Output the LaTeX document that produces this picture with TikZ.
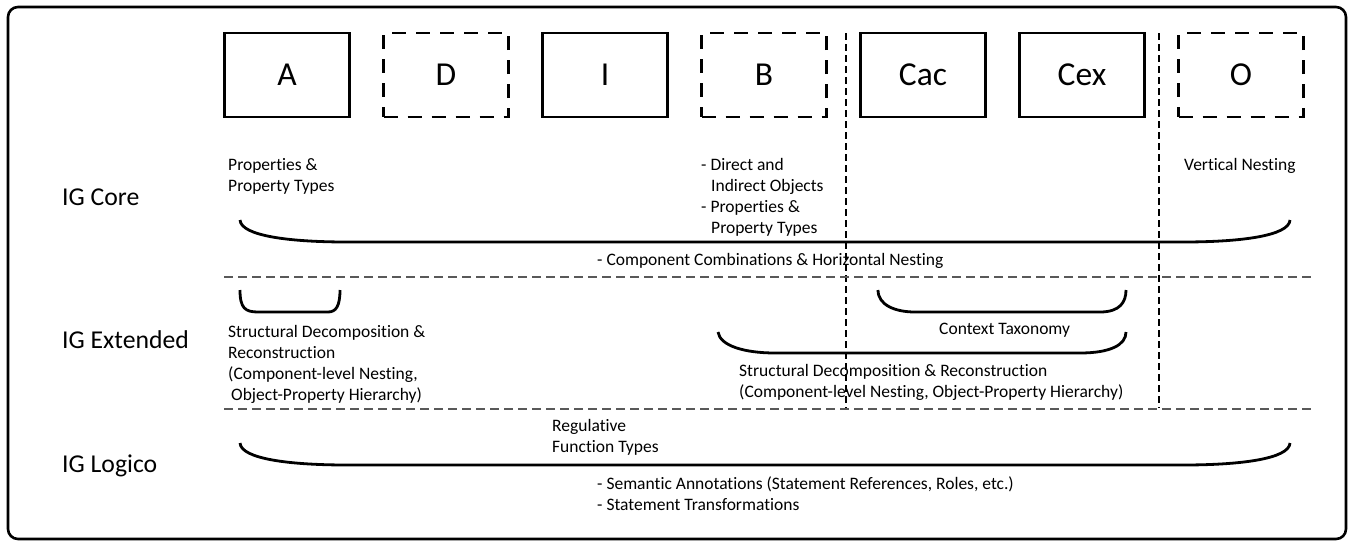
\documentclass[tikz,border=0pt]{standalone}
\usepackage{fontspec}
\setmainfont{Carlito}[Ligatures={NoCommon,NoRequired,NoContextual},Contextuals=NoAlternate,RawFeature={-liga;-clig;-calt;-rlig;-dlig}]
\begin{document}
\begin{tikzpicture}[x=1pt,y=-1pt,
  comp/.style={draw,line width=2.6pt,minimum width=125pt,minimum height=84pt,inner sep=0pt,font=\fontsize{33.5}{36}\selectfont},
  compsolid/.style={comp},
  compdash/.style={comp,dash pattern=on 14pt off 10pt},
  level/.style={inner sep=0pt,anchor=west,font=\fontsize{25.7}{28}\selectfont},
  note/.style={inner sep=0pt,align=left,font=\fontsize{17.5}{21.2}\selectfont},
  brace/.style={line width=2.8pt},
  vsep/.style={line width=1.1pt,dash pattern=on 7pt off 4pt},
  hsep/.style={line width=1.5pt,gray!70!black,dash pattern=on 9pt off 5pt}]
\useasboundingbox (0,0) rectangle (1351,544);
\draw[line width=2.6pt,rounded corners=10pt] (8,7) rectangle (1346,539);
% separators
\draw[vsep] (846,33) -- (846,408);
\draw[vsep] (1159,33) -- (1159,408);
\draw[hsep] (224,277) -- (1311,277);
\draw[hsep] (224,409) -- (1311,409);
% components
\node[compsolid] (A) at (287,75) {A};
\node[compdash] (D) at (446,75) {D};
\node[compsolid] (I) at (605,75) {I};
\node[compdash] (B) at (764,75) {B};
\node[compsolid] (Cac) at (923,75) {Cac};
\node[compsolid] (Cex) at (1082,75) {Cex};
\node[compdash] (O) at (1241,75) {O};
% level labels
\node[level] (core) at (62,197) {IG Core};
\node[level] (ext) at (62,340) {IG Extended};
\node[level] (logico) at (62,466) {IG Logico};
% core notes
\node[note,anchor=north west] (propA) at (228,158) {Properties \&\\Property Types};
\node[note,anchor=north west] (propB) at (701,158) {- Direct and\\\hspace*{10pt}Indirect Objects\\- Properties \&\\\hspace*{10pt}Property Types};
\node[note,anchor=north west] (vert) at (1184,158) {Vertical Nesting};
\node[note,anchor=west] (combo) at (597,261) {- Component Combinations \& Horizontal Nesting};
% extended notes
\node[note,anchor=north west] (structL) at (228,325) {Structural Decomposition \&\\Reconstruction\\(Component-level Nesting,\\\hspace*{3pt}Object-Property Hierarchy)};
\node[note,anchor=west] (ctx) at (939,330) {Context Taxonomy};
\node[note,anchor=north west] (structR) at (739,364) {Structural Decomposition \& Reconstruction\\(Component-level Nesting, Object-Property Hierarchy)};
% logico notes
\node[note,anchor=north west] (reg) at (552,419) {Regulative\\Function Types};
\node[note,anchor=north west] (sem) at (597,476) {- Semantic Annotations (Statement References, Roles, etc.)\\- Statement Transformations};
% brackets
\draw[brace] (240,220) .. controls (241,236) and (290,242) .. (347,242) -- (1183,242) .. controls (1240,242) and (1289,236) .. (1290,220);
\draw[brace] (240,443) .. controls (241,459) and (290,465) .. (347,465) -- (1183,465) .. controls (1240,465) and (1289,459) .. (1290,443);
\draw[brace] (240,290) .. controls (240,308) and (245,312) .. (258,312) -- (328,312) .. controls (336,312) and (340,306) .. (340,290);
\draw[brace] (878,290) .. controls (878,305) and (895,312) .. (915,312) -- (1100,312) .. controls (1120,312) and (1126,302) .. (1126,290);
\draw[brace] (718,332) .. controls (720,346) and (745,353) .. (775,353) -- (1080,353) .. controls (1110,353) and (1126,345) .. (1126,332);
\end{tikzpicture}
\end{document}
